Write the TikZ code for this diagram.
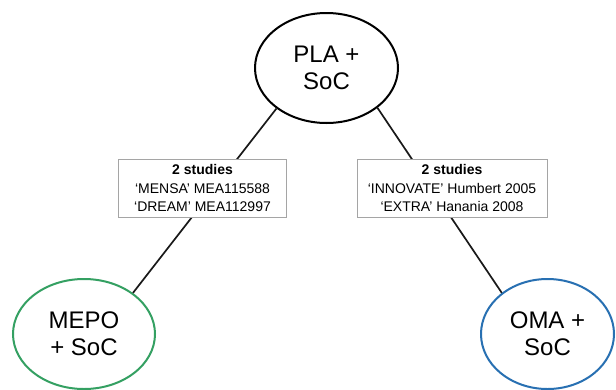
\documentclass[tikz,border=0pt]{standalone}
\usepackage{fontspec}
\setmainfont{Liberation Sans}
\usetikzlibrary{shapes.geometric}
\definecolor{mepogreen}{RGB}{52,160,98}
\definecolor{omablue}{RGB}{40,112,178}
\definecolor{boxgray}{RGB}{165,165,165}
\tikzset{
  oval/.style={ellipse, draw, line width=2pt, fill=white, inner sep=0pt, align=center,
    font=\fontsize{24}{27}\selectfont},
  studybox/.style={draw=boxgray, line width=0.9pt, fill=white, inner sep=0pt, align=center,
    font=\fontsize{14}{18.5}\selectfont},
  link/.style={line width=1.7pt, draw=black!90}
}
\begin{document}
\begin{tikzpicture}[x=1pt,y=-1pt]
\fill[white] (0,0) rectangle (616,389);
\useasboundingbox (0,0) rectangle (616,389);
\node[oval, minimum width=143pt, minimum height=110pt] (pla) at (326.5,68) {PLA +\\SoC};
\node[oval, draw=mepogreen, minimum width=142pt, minimum height=110pt] (mepo) at (84,334) {MEPO\\+ SoC};
\node[oval, draw=omablue, minimum width=133pt, minimum height=110pt] (oma) at (547.5,334) {OMA +\\SoC};
\draw[link] (pla.219) -- (mepo.40);
\draw[link] (pla.-38) -- (oma.138);
\node[studybox, minimum width=168pt, minimum height=58pt] (left) at (202.5,188)
  {\textbf{2 studies}\\`MENSA' MEA115588\\`DREAM' MEA112997};
\node[studybox, minimum width=190pt, minimum height=58pt] (right) at (452,188)
  {\textbf{2 studies}\\`INNOVATE' Humbert 2005\\`EXTRA' Hanania 2008};
\end{tikzpicture}
\end{document}
